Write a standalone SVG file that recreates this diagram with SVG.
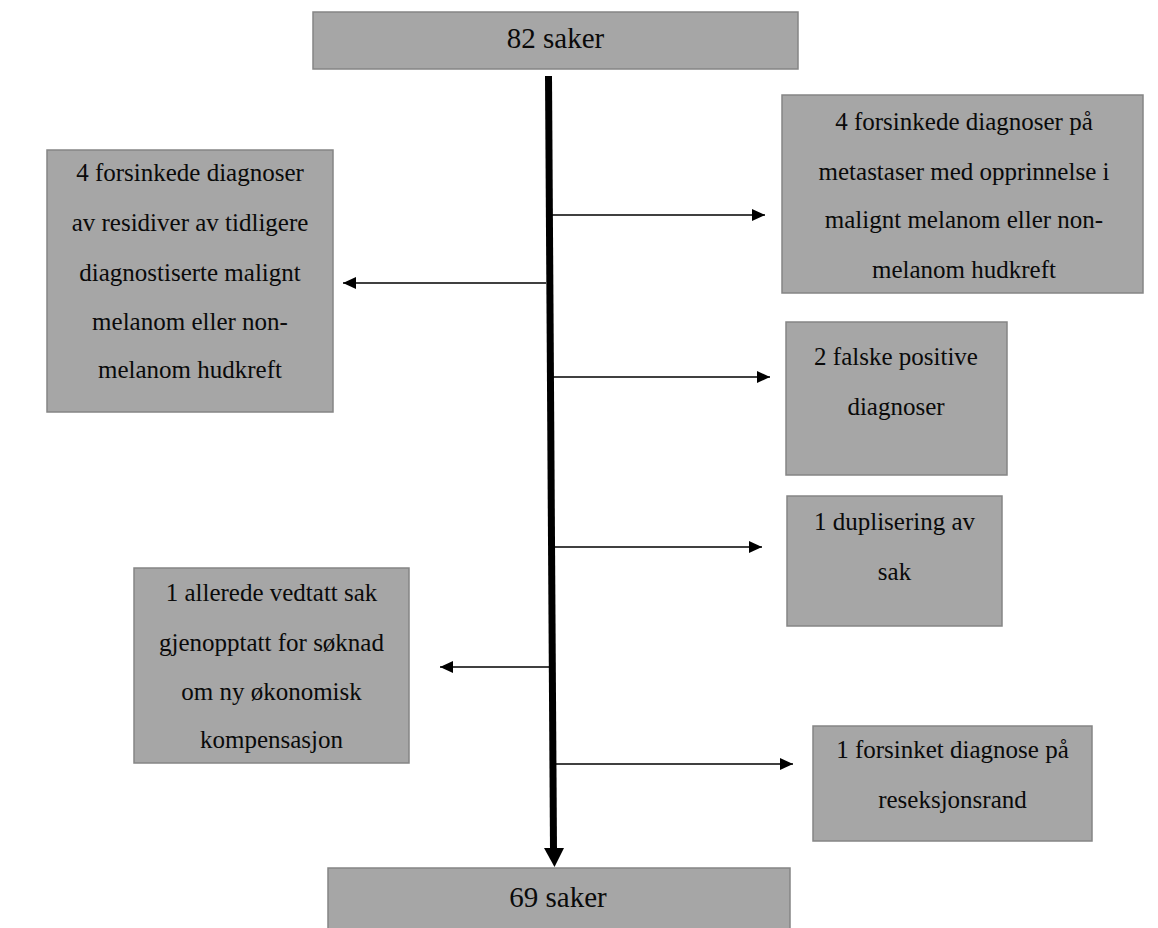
<svg xmlns="http://www.w3.org/2000/svg" width="1158" height="928" viewBox="0 0 1158 928">
<defs>
<style>
.box{fill:#a6a6a6;stroke:#858585;stroke-width:1.5}
.t{font-family:'Liberation Serif','Times New Roman',serif;font-size:25px;fill:#0a0a0a;text-anchor:middle}
.big{font-size:29px}
.arr{stroke:#000;stroke-width:1.6;fill:none;marker-end:url(#ah)}
</style>
<marker id="ah" markerUnits="userSpaceOnUse" markerWidth="14" markerHeight="12" refX="13" refY="6" orient="auto">
<path d="M0,0 L13,6 L0,12 Z" fill="#000"/>
</marker>
</defs>
<rect width="1158" height="928" fill="#fff"/>
<g id="connectors">
<path d="M548.5,76 L553.5,850" stroke="#000" stroke-width="7" fill="none"/>
<polygon points="544,848 564,848 554.5,867" fill="#000"/>
<line class="arr" x1="552" y1="215" x2="765" y2="215"/>
<line class="arr" x1="546" y1="283" x2="343" y2="283"/>
<line class="arr" x1="553" y1="377" x2="770" y2="377"/>
<line class="arr" x1="554" y1="547" x2="762" y2="547"/>
<line class="arr" x1="550" y1="667" x2="440" y2="667"/>
<line class="arr" x1="555" y1="764" x2="793" y2="764"/>
</g>
<g id="n-top">
<rect class="box" x="313" y="12" width="485" height="57"/>
<text class="t big" x="555.5" y="48">82 saker</text>
</g>
<g id="n-left1">
<rect class="box" x="47" y="150" width="286" height="262"/>
<text class="t" x="190" y="181">4 forsinkede diagnoser</text>
<text class="t" x="190" y="231">av residiver av tidligere</text>
<text class="t" x="190" y="281">diagnostiserte malignt</text>
<text class="t" x="190" y="330">melanom eller non-</text>
<text class="t" x="190" y="378">melanom hudkreft</text>
</g>
<g id="n-right1">
<rect class="box" x="782" y="95" width="361" height="198"/>
<text class="t" x="964" y="130">4 forsinkede diagnoser på</text>
<text class="t" x="964" y="180">metastaser med opprinnelse i</text>
<text class="t" x="964" y="228">malignt melanom eller non-</text>
<text class="t" x="964" y="278">melanom hudkreft</text>
</g>
<g id="n-right2">
<rect class="box" x="786" y="322" width="221" height="153"/>
<text class="t" x="896" y="365">2 falske positive</text>
<text class="t" x="896" y="415">diagnoser</text>
</g>
<g id="n-right3">
<rect class="box" x="787" y="496" width="215" height="130"/>
<text class="t" x="894.5" y="530">1 duplisering av</text>
<text class="t" x="894.5" y="580">sak</text>
</g>
<g id="n-left2">
<rect class="box" x="134" y="568" width="275" height="195"/>
<text class="t" x="271.5" y="601">1 allerede vedtatt sak</text>
<text class="t" x="271.5" y="651">gjenopptatt for søknad</text>
<text class="t" x="271.5" y="700">om ny økonomisk</text>
<text class="t" x="271.5" y="748">kompensasjon</text>
</g>
<g id="n-right4">
<rect class="box" x="813" y="726" width="279" height="115"/>
<text class="t" x="952.5" y="758">1 forsinket diagnose på</text>
<text class="t" x="952.5" y="808">reseksjonsrand</text>
</g>
<g id="n-bottom">
<rect class="box" x="328" y="868" width="462" height="70"/>
<text class="t big" x="558" y="907">69 saker</text>
</g>
</svg>
